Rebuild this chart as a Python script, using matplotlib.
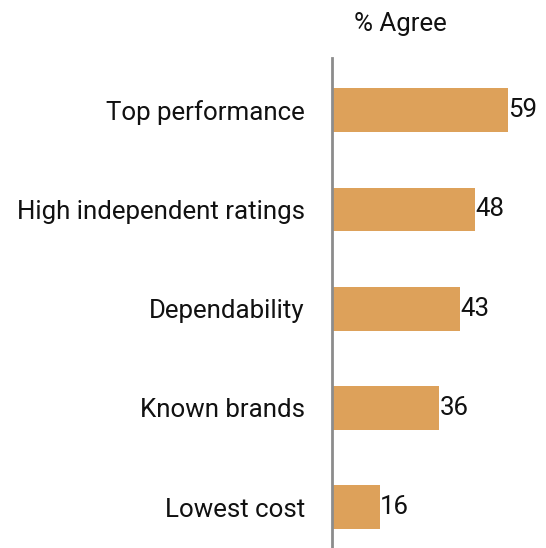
import matplotlib
matplotlib.use("Agg")
import matplotlib.pyplot as plt

categories = ["Top performance", "High independent ratings", "Dependability",
              "Known brands", "Lowest cost"]
values = [59, 48, 43, 36, 16]

plt.rcParams['font.family'] = ['Roboto', 'DejaVu Sans']
fs = 18.6

fig = plt.figure(figsize=(5.46, 5.48), dpi=100)
ax = fig.add_axes([332 / 546, 0, 1 - 332 / 546, 1 - 58 / 548])

pos = range(len(categories))
ax.barh(pos, values, height=0.44, color="#DDA15A")
for p, v in zip(pos, values):
    ax.text(v + 0.2, p, str(v), va="center", ha="left", fontsize=fs, color="#111111")

ax.set_xlim(0, 71.8)
ax.set_ylim(4.41, -0.524)
ax.set_yticks(list(pos))
ax.set_yticklabels(categories, fontsize=fs, color="#111111")
ax.tick_params(axis="y", length=0, pad=19.5)
ax.set_xticks([])
for s in ["top", "right", "bottom"]:
    ax.spines[s].set_visible(False)
ax.spines["left"].set_color("#8c8c8c")
ax.spines["left"].set_linewidth(2)

fig.text(400 / 546, 1 - 24 / 548, "% Agree", ha="center", va="center",
         fontsize=fs, color="#111111")

fig.savefig("out.png", dpi=100)
